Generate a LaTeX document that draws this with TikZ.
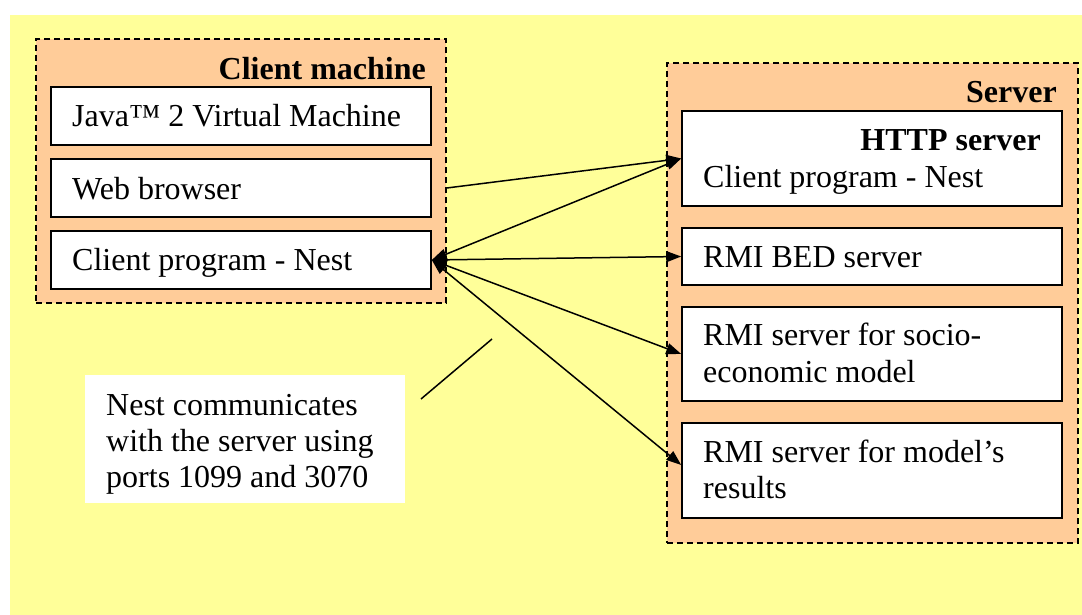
\documentclass[tikz,border=0pt]{standalone}
\usepackage{fontspec}
\setmainfont{Liberation Serif}
\usetikzlibrary{arrows.meta}
\definecolor{bgyellow}{HTML}{FFFF99}
\definecolor{peach}{HTML}{FFCC99}
\begin{document}
\begin{tikzpicture}[x=1pt,y=-1pt,
  font=\fontsize{32}{37}\selectfont,
  group/.style={draw=black, fill=peach, line width=1.5pt, dash pattern=on 6pt off 4pt, inner sep=0pt},
  box/.style={draw=black, fill=white, line width=1.6pt, inner sep=0pt},
  txt/.style={anchor=base west, inner sep=0pt},
  btxt/.style={anchor=base east, inner sep=0pt, font=\fontsize{32}{37}\selectfont\bfseries},
  arr/.style={line width=1.5pt, -{Triangle[length=15pt,width=11pt]}},
  darr/.style={line width=1.5pt, {Triangle[length=15pt,width=11pt]}-{Triangle[length=15pt,width=11pt]}},
  thin line/.style={line width=1.5pt}
]
\useasboundingbox (0,0) rectangle (1082,615);
\fill[white] (0,0) rectangle (1082,615);
\fill[bgyellow] (10,15) rectangle (1082,615);

% client machine
\node[group, minimum width=410pt, minimum height=264pt] (client) at (241,171) {};
\node[btxt] (clientlbl) at (426,80) {Client machine};
\node[box, minimum width=380pt, minimum height=58pt] (java) at (241,116) {};
\node[txt] (javat) at (72,127) {Java™ 2 Virtual Machine};
\node[box, minimum width=380pt, minimum height=58pt] (web) at (241,188) {};
\node[txt] (webt) at (72,199) {Web browser};
\node[box, minimum width=380pt, minimum height=58pt] (cp) at (241,260) {};
\node[txt] (cpt) at (72,270) {Client program - Nest};

% server
\node[group, minimum width=411pt, minimum height=480pt] (server) at (872.5,303) {};
\node[btxt] (serverlbl) at (1057,103) {Server};
\node[box, minimum width=380pt, minimum height=95pt] (http) at (872,158.5) {};
\node[btxt] (httpt) at (1041,150) {HTTP server};
\node[txt] (httpt2) at (703,187) {Client program - Nest};
\node[box, minimum width=380pt, minimum height=57pt] (bed) at (872,256.5) {};
\node[txt] (bedt) at (703,267) {RMI BED server};
\node[box, minimum width=380pt, minimum height=94pt] (socio) at (872,354) {};
\node[txt] (sociot) at (703,345) {RMI server for socio-};
\node[txt] (sociot2) at (703,382) {economic model};
\node[box, minimum width=380pt, minimum height=95pt] (res) at (872,470.5) {};
\node[txt] (rest) at (703,462) {RMI server for model’s};
\node[txt] (rest2) at (703,498) {results};

% note
\node[fill=white, inner sep=0pt, minimum width=320pt, minimum height=128pt] (note) at (245,439) {};
\node[txt] (n1) at (106,415) {Nest communicates};
\node[txt] (n2) at (106,451) {with the server using};
\node[txt] (n3) at (106,487) {ports 1099 and 3070};

% connectors
\draw[arr] (client.east |- web) -- (http.west);
\draw[darr] (cp.east) -- (http.west);
\draw[darr] (cp.east) -- (bed.west);
\draw[darr] (cp.east) -- (socio.west);
\draw[darr] (cp.east) -- ([yshift=5.5pt]res.west);

\coordinate (c1) at (421,399);
\coordinate (c2) at (492,339);
\draw[thin line] (c1) -- (c2);
\end{tikzpicture}
\end{document}
